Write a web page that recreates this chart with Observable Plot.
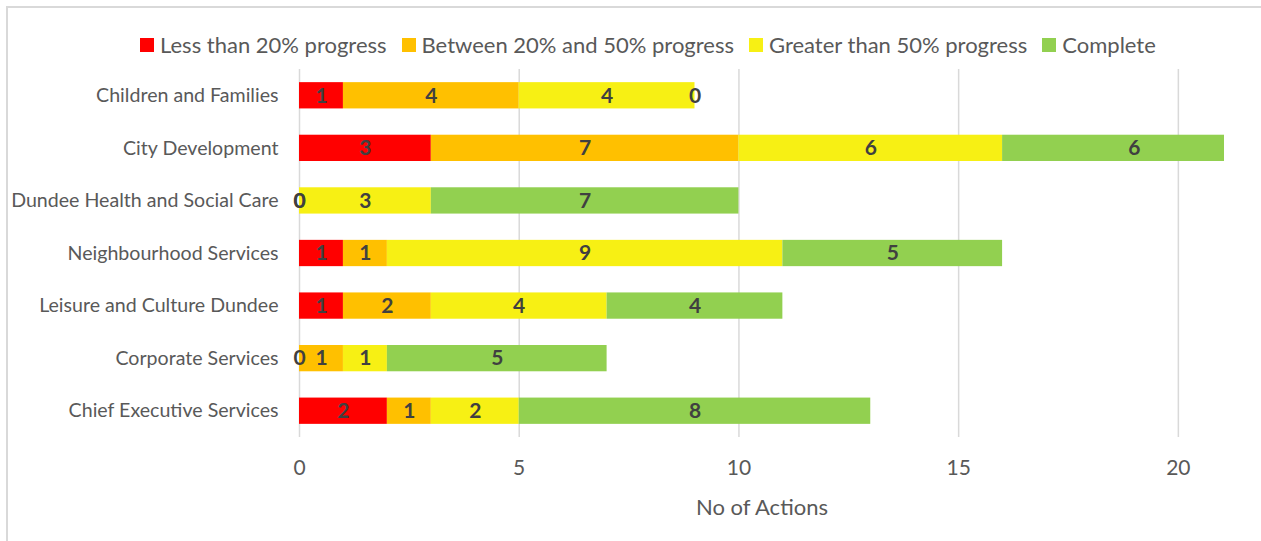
<!DOCTYPE html>
<html>
<head>
<meta charset="utf-8">
<script src="https://cdn.jsdelivr.net/npm/d3@7"></script>
<script src="https://cdn.jsdelivr.net/npm/@observablehq/plot@0.6"></script>
<style>
  html, body { margin: 0; padding: 0; background: #fff; }
  #wrap { position: relative; width: 1261px; height: 541px; overflow: hidden; font-family: Lato, "Liberation Sans", sans-serif; }
  #frame { position: absolute; left: 6px; top: 6px; width: 1300px; height: 600px; border-top: 2px solid #d9d9d9; border-left: 2px solid #d9d9d9; }
  #legend { position: absolute; left: 140px; top: 31px; display: flex; align-items: center; font-size: 22px; color: #595959; white-space: nowrap; }
  #legend .item { display: flex; align-items: center; margin-right: 15px; }
  #legend .sw { width: 14px; height: 14px; margin-right: 6px; }
  #chart { position: absolute; left: 0; top: 0; }
</style>
</head>
<body>
<div id="wrap">
  <div id="frame"></div>
  <div id="chart"></div>
  <div id="legend"></div>
</div>
<script>
const categories = ["Children and Families", "City Development", "Dundee Health and Social Care", "Neighbourhood Services", "Leisure and Culture Dundee", "Corporate Services", "Chief Executive Services"];
const seriesNames = ["Less than 20% progress", "Between 20% and 50% progress", "Greater than 50% progress", "Complete"];
const seriesColors = ["#FF0000", "#FFC000", "#F7F014", "#92D050"];
const lessThan20 = [1, 3, 0, 1, 1, 0, 2];
const between20and50 = [4, 7, 0, 1, 2, 1, 1];
const greaterThan50 = [4, 6, 3, 9, 4, 1, 2];
const complete = [0, 6, 7, 5, 4, 5, 8];
const xTicks = [0, 5, 10, 15, 20];
const xMax = 21.05;
const xTitle = "No of Actions";

const seriesValues = [lessThan20, between20and50, greaterThan50, complete];
const data = [];
categories.forEach((c, i) => {
  seriesNames.forEach((s, j) => data.push({category: c, series: s, value: seriesValues[j][i]}));
});

const legend = document.getElementById("legend");
seriesNames.forEach((s, j) => {
  const it = document.createElement("div");
  it.className = "item";
  it.innerHTML = `<div class="sw" style="background:${seriesColors[j]}"></div><span>${s}</span>`;
  legend.appendChild(it);
});

const chart = Plot.plot({
  width: 1261,
  height: 541,
  marginTop: 69,
  marginBottom: 104,
  marginLeft: 299,
  marginRight: 37,
  style: {fontFamily: "Lato, 'Liberation Sans', sans-serif", background: "transparent", overflow: "visible"},
  x: {domain: [0, xMax], axis: null},
  y: {domain: categories, paddingInner: 0.5, paddingOuter: 0.25, round: false, axis: null},
  color: {domain: seriesNames, range: seriesColors},
  marks: [
    Plot.gridX(xTicks, {stroke: "#d9d9d9", strokeOpacity: 1, strokeWidth: 1.5}),
    Plot.barX(data, {x: "value", y: "category", fill: "series", clip: true, order: null}),
    Plot.text(data, Plot.stackX({x: "value", y: "category", z: "series", order: null, text: d => String(d.value), fill: "#404040", fontSize: 21, fontWeight: "bold"})),
    Plot.axisY({tickSize: 0, tickPadding: 21, fontSize: 19.6, color: "#595959", label: null}),
    Plot.text(xTicks, {x: d => d, text: d => String(d), frameAnchor: "bottom", dy: 31, lineAnchor: "middle", fontSize: 21, fill: "#595959"}),
    Plot.text([xTitle], {text: d => d, frameAnchor: "bottom", dy: 70, lineAnchor: "middle", fontSize: 22, fill: "#595959"})
  ]
});
document.getElementById("chart").appendChild(chart);
</script>
</body>
</html>
